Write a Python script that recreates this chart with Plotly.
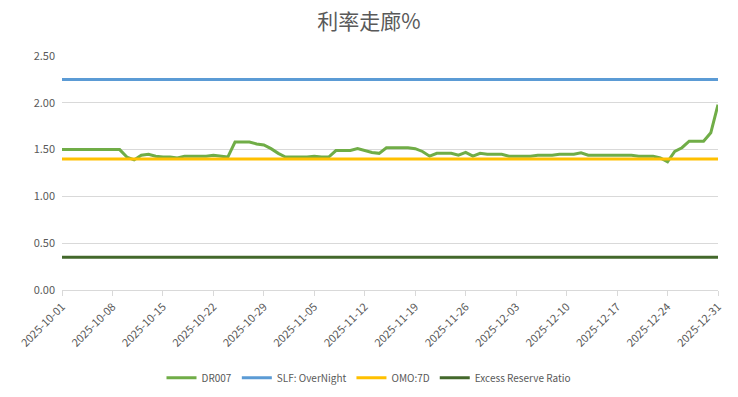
import pandas as pd
import plotly.graph_objects as go

dates = pd.date_range("2025-10-01", "2025-12-31", freq="D").strftime("%Y-%m-%d").tolist()

dr007 = [1.50, 1.50, 1.50, 1.50, 1.50, 1.50, 1.50, 1.50, 1.50, 1.42,
         1.39, 1.44, 1.45, 1.43, 1.42, 1.42, 1.41, 1.43, 1.43, 1.43,
         1.43, 1.44, 1.43, 1.42, 1.58, 1.58, 1.58, 1.56, 1.55, 1.51,
         1.46, 1.42, 1.42, 1.42, 1.42, 1.43, 1.42, 1.42, 1.49, 1.49,
         1.49, 1.51, 1.49, 1.47, 1.46, 1.52, 1.52, 1.52, 1.52, 1.51,
         1.48, 1.43, 1.46, 1.46, 1.46, 1.44, 1.47, 1.43, 1.46, 1.45,
         1.45, 1.45, 1.43, 1.43, 1.43, 1.43, 1.44, 1.44, 1.44, 1.45,
         1.45, 1.45, 1.465, 1.44, 1.44, 1.44, 1.445, 1.44, 1.44, 1.44,
         1.43, 1.43, 1.43, 1.41, 1.37, 1.48, 1.52, 1.59, 1.59, 1.59,
         1.68, 1.98]
slf_on = [2.25] * len(dates)
omo_7d = [1.40] * len(dates)
excess_reserve = [0.35] * len(dates)

tick_dates = ["2025-10-01", "2025-10-08", "2025-10-15", "2025-10-22", "2025-10-29",
              "2025-11-05", "2025-11-12", "2025-11-19", "2025-11-26", "2025-12-03",
              "2025-12-10", "2025-12-17", "2025-12-24", "2025-12-31"]

series = [
    ("DR007", dr007, "#70ad47"),
    ("SLF: OverNight", slf_on, "#5b9bd5"),
    ("OMO:7D", omo_7d, "#ffc000"),
    ("Excess Reserve Ratio", excess_reserve, "#43682b"),
]

fig = go.Figure()
for name, vals, color in series:
    fig.add_trace(go.Scatter(x=dates, y=vals, name=name, mode="lines",
                             line=dict(color=color, width=3)))

font_family = "Noto Sans CJK SC, Noto Sans, sans-serif"
fig.update_layout(
    width=738, height=397,
    margin=dict(l=62, r=20, t=56, b=107, autoexpand=False),
    paper_bgcolor="white", plot_bgcolor="white",
    title=dict(text="利率走廊%", x=0.5, xanchor="center", y=0.945, yanchor="middle",
               font=dict(family=font_family, size=21, color="#595959")),
    font=dict(family=font_family, size=11, color="#595959"),
    showlegend=True,
    legend=dict(orientation="h", xref="container", x=0.5, xanchor="center",
                y=-0.375, yanchor="middle",
                font=dict(size=10, color="#595959"), itemwidth=30,
                tracegroupgap=0, traceorder="normal"),
)
fig.update_xaxes(
    type="date", range=["2025-10-01", "2025-12-31"], automargin=False,
    tickmode="array", tickvals=tick_dates, ticktext=tick_dates,
    tickangle=-45, showgrid=False, showline=True, linecolor="#d9d9d9", linewidth=1,
    ticks="outside", ticklen=5, tickcolor="#d9d9d9",
    tickfont=dict(size=11, color="#595959"),
)
fig.update_yaxes(
    range=[0, 2.5], dtick=0.5, tickformat=".2f", automargin=False,
    showgrid=True, gridcolor="#d9d9d9", gridwidth=1, zeroline=False,
    showline=False, ticks="", ticklabelstandoff=6,
    tickfont=dict(size=11, color="#595959"),
)

fig.write_html("out.html")
